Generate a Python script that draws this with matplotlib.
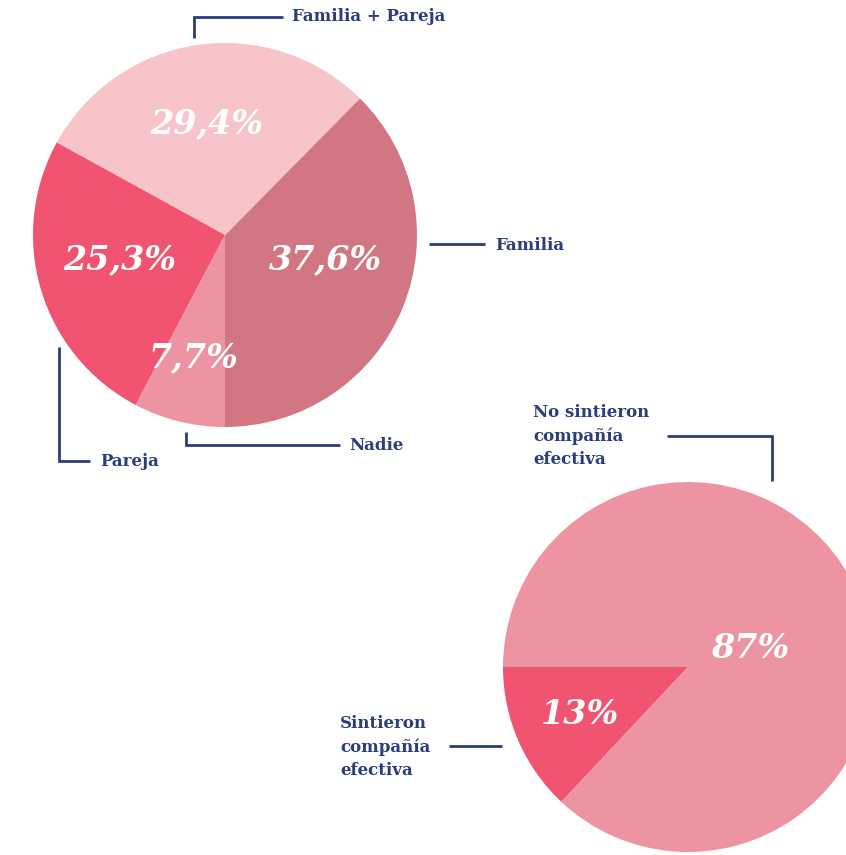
import matplotlib
matplotlib.use("Agg")
import matplotlib.pyplot as plt

# datos
cat1 = ["Familia", "Familia + Pareja", "Pareja", "Nadie"]
val1 = [37.6, 29.4, 25.3, 7.7]
lab1 = ["37,6%", "29,4%", "25,3%", "7,7%"]
col1 = ["#D27684", "#F7C5C9", "#F05470", "#EC94A1"]

cat2 = ["Sintieron\ncompañía\nefectiva", "No sintieron\ncompañía\nefectiva"]
val2 = [13, 87]
lab2 = ["13%", "87%"]
col2 = ["#F05470", "#EC94A1"]

W, H = 846, 855
navy = "#2A3D7C"
serif = ["DejaVu Serif"]

fig = plt.figure(figsize=(W / 100, H / 100), dpi=100)
ax = fig.add_axes([0, 0, 1, 1])


def Y(y):
    # coordenadas de imagen -> datos
    return H - y


# pie 1
ax.pie(val1, colors=col1, startangle=-90, counterclock=True,
       center=(225, Y(235)), radius=192, frame=True)
pos1 = [(325, 260), (207, 124), (120, 260), (193, 358)]
for (x, y), t in zip(pos1, lab1):
    ax.text(x, Y(y), t, color="white", fontsize=24, fontweight="bold",
            fontstyle="italic", family=serif, ha="center", va="center")

# pie 2
ax.pie(val2, colors=col2, startangle=180, counterclock=True,
       center=(688, Y(667)), radius=185, frame=True)
pos2 = [(580, 714), (750, 648)]
for (x, y), t in zip(pos2, lab2):
    ax.text(x, Y(y), t, color="white", fontsize=24, fontweight="bold",
            fontstyle="italic", family=serif, ha="center", va="center")

ax.set_xlim(0, W)
ax.set_ylim(0, H)
ax.set_aspect("equal")
ax.axis("off")

# lineas guia
lines = [
    [(194, 38), (194, 17), (283, 17)],
    [(429, 244), (485, 244)],
    [(59, 347), (59, 461), (90, 461)],
    [(186, 432), (186, 445), (340, 445)],
    [(667, 436), (772, 436), (772, 481)],
    [(449, 746), (502, 746)],
]
for pts in lines:
    ax.plot([p[0] for p in pts], [Y(p[1]) for p in pts], color=navy, lw=2,
            solid_capstyle="butt", solid_joinstyle="miter")

labels = [
    (292, 17, cat1[1]),
    (495, 245, cat1[0]),
    (100, 461, cat1[2]),
    (349, 445, cat1[3]),
    (533, 436, cat2[1]),
    (340, 747, cat2[0]),
]
for x, y, t in labels:
    ax.text(x, Y(y), t, color=navy, fontsize=12, fontweight="bold",
            family=serif, ha="left", va="center", linespacing=1.45)

fig.savefig("out.png", dpi=100)
